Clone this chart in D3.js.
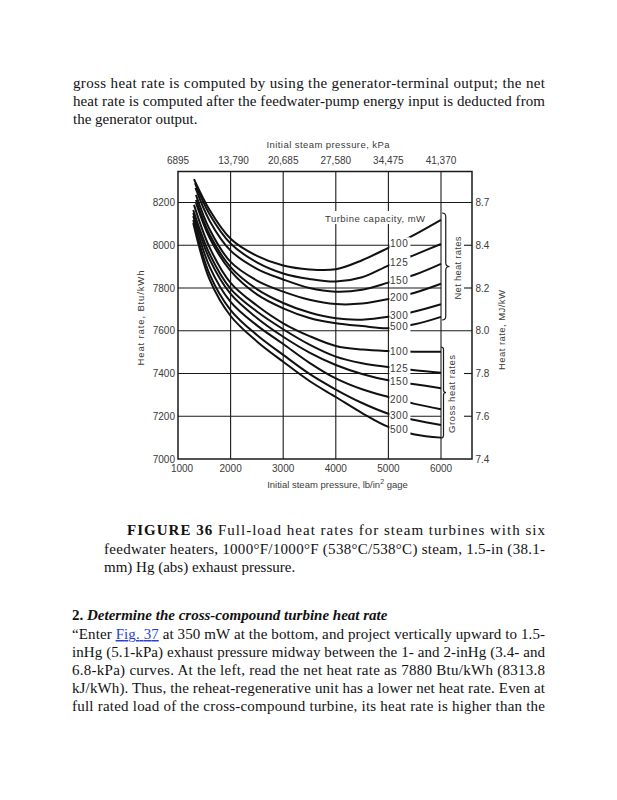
<!DOCTYPE html>
<html><head><meta charset="utf-8">
<script src="https://cdn.jsdelivr.net/npm/d3@7"></script>
<style>body{margin:0;background:#fff}svg{display:block}</style>
</head><body><svg id="c" width="617" height="800"></svg>
<script>
// ---------- data ----------
const capacities = ["100", "125", "150", "200", "300", "500"];
const pressurePsi = [1600, 2000, 2500, 3000, 3500, 4000, 4500, 5000, 5500, 6000];
const netStartPsi = [1304, 1323, 1333, 1342, 1342, 1342];
const netStartBtu = [8309, 8291, 8268, 8236, 8212, 8198];
const grossStartPsi = [1304, 1290, 1290, 1290, 1290, 1290];
const grossStartBtu = [8189, 8165, 8151, 8137, 8118, 8104];
const net100 = [8165, 8030, 7950, 7905, 7887, 7888, 7930, 7988, 8050, 8119];
const net125 = [8145, 8008, 7920, 7868, 7842, 7830, 7850, 7905, 7955, 8006];
const net150 = [8115, 7975, 7890, 7840, 7800, 7783, 7792, 7825, 7862, 7913];
const net200 = [8075, 7922, 7835, 7783, 7745, 7725, 7727, 7748, 7778, 7820];
const net300 = [8050, 7898, 7795, 7730, 7685, 7658, 7652, 7665, 7690, 7724];
const net500 = [8035, 7880, 7770, 7705, 7660, 7635, 7622, 7612, 7630, 7665];
const gross100 = [7990, 7824, 7718, 7635, 7575, 7529, 7512, 7505, 7502, 7502];
const gross125 = [7960, 7796, 7690, 7607, 7535, 7479, 7448, 7430, 7415, 7404];
const gross150 = [7935, 7772, 7660, 7572, 7498, 7440, 7398, 7368, 7350, 7331];
const gross200 = [7900, 7735, 7625, 7538, 7450, 7377, 7326, 7290, 7258, 7233];
const gross300 = [7865, 7697, 7580, 7487, 7398, 7325, 7262, 7212, 7182, 7159];
const gross500 = [7840, 7669, 7550, 7455, 7365, 7290, 7215, 7150, 7115, 7100];
const psiTicks = [1000, 2000, 3000, 4000, 5000, 6000];
const psiLabels = ["1000", "2000", "3000", "4000", "5000", "6000"];
const kpaLabels = ["6895", "13,790", "20,685", "27,580", "34,475", "41,370"];
const btuTicks = [7000, 7200, 7400, 7600, 7800, 8000, 8200];
const mjLabels = ["7.4", "7.6", "7.8", "8.0", "8.2", "8.4", "8.7"];

const netSeries = [net100, net125, net150, net200, net300, net500];
const grossSeries = [gross100, gross125, gross150, gross200, gross300, gross500];

// ---------- layout ----------
const svg = d3.select("#c");
svg.append("rect").attr("width", 617).attr("height", 800).attr("fill", "#fff");
const x = d3.scaleLinear().domain([1000, 6000]).range([178, 441]);
const y = d3.scaleLinear().domain([7000, 8200]).range([459, 202.5]);
const xR = 472, yTop = 171.5;
const ink = "#1a1a1a", lab = "#3a3a3a";
const sans = "'Liberation Sans', Arial, sans-serif";
const serif = "'Liberation Serif', 'Times New Roman', serif";

// ---------- page text ----------
function textLine(t, x0, x1, yb, opts = {}) {
  const el = svg.append("text").attr("x", x0).attr("y", yb)
    .attr("font-family", serif).attr("font-size", opts.size || 15).attr("fill", "#111");
  if (opts.justify) el.attr("textLength", x1 - x0).attr("lengthAdjust", "spacing");
  (Array.isArray(t) ? t : [[t, {}]]).forEach(([s, st]) => {
    const ts = el.append("tspan").text(s);
    if (st.bold) ts.attr("font-weight", "bold");
    if (st.italic) ts.attr("font-style", "italic");
    if (st.link) ts.attr("fill", "#2a3fd6").style("text-decoration", "underline");
  });
  return el;
}
textLine("gross heat rate is computed by using the generator-terminal output; the net", 73, 545, 88, {justify: true});
textLine("heat rate is computed after the feedwater-pump energy input is deducted from", 73, 545, 106, {justify: true});
textLine("the generator output.", 73, 545, 124);

textLine([["FIGURE 36", {bold: true}], [" Full-load heat rates for steam turbines with six", {}]], 127, 545, 535, {justify: true});
textLine("feedwater heaters, 1000°F/1000°F (538°C/538°C) steam, 1.5-in (38.1-", 104, 545, 553.5, {justify: true});
textLine("mm) Hg (abs) exhaust pressure.", 104, 545, 572);

textLine([["2. ", {bold: true}], ["Determine the cross-compound turbine heat rate", {bold: true, italic: true}]], 72, 545, 620);
textLine([["“Enter ", {}], ["Fig. 37", {link: true}], [" at 350 mW at the bottom, and project vertically upward to 1.5-", {}]], 72, 545, 639, {justify: true});
textLine("inHg (5.1-kPa) exhaust pressure midway between the 1- and 2-inHg (3.4- and", 72, 545, 657, {justify: true});
textLine("6.8-kPa) curves. At the left, read the net heat rate as 7880 Btu/kWh (8313.8", 72, 545, 675, {justify: true});
textLine("kJ/kWh). Thus, the reheat-regenerative unit has a lower net heat rate. Even at", 72, 545, 693, {justify: true});
textLine("full rated load of the cross-compound turbine, its heat rate is higher than the", 72, 545, 711, {justify: true});

// ---------- grid ----------
const g = svg.append("g");
psiTicks.slice(1).forEach(p => {
  g.append("line").attr("x1", x(p)).attr("x2", x(p)).attr("y1", yTop).attr("y2", y(7000))
    .attr("stroke", ink).attr("stroke-width", 1.1);
});
btuTicks.slice(1).forEach(b => {
  const full = (b === 7600 || b === 8200);
  g.append("line").attr("x1", x(1000)).attr("x2", full ? xR : x(6000)).attr("y1", y(b)).attr("y2", y(b))
    .attr("stroke", ink).attr("stroke-width", 1.1);
  if (!full) g.append("line").attr("x1", xR - 8).attr("x2", xR).attr("y1", y(b)).attr("y2", y(b))
    .attr("stroke", ink).attr("stroke-width", 1.1);
});
// frame
g.append("path").attr("d", `M${x(1000)},${yTop}H${xR}V${y(7000)}H${x(1000)}Z`)
  .attr("fill", "none").attr("stroke", ink).attr("stroke-width", 1.5);

// ---------- curves ----------
const line = d3.line().x(d => x(d[0])).y(d => y(d[1])).curve(d3.curveCatmullRom.alpha(0.5));
function pts(startP, startB, vals) { return [[startP, startB]].concat(pressurePsi.map((p, i) => [p, vals[i]])); }
const cg = svg.append("g");
netSeries.forEach((s, i) => cg.append("path").attr("d", line(pts(netStartPsi[i], netStartBtu[i], s)))
  .attr("fill", "none").attr("stroke", "#111").attr("stroke-width", 2));
grossSeries.forEach((s, i) => cg.append("path").attr("d", line(pts(grossStartPsi[i], grossStartBtu[i], s)))
  .attr("fill", "none").attr("stroke", "#111").attr("stroke-width", 2));

// ---------- curve labels ----------
const labelPsi = 5170;
function valAt(vals, p) {
  const i = d3.bisectLeft(pressurePsi, p);
  const t = (p - pressurePsi[i - 1]) / (pressurePsi[i] - pressurePsi[i - 1]);
  return vals[i - 1] + t * (vals[i] - vals[i - 1]);
}
const lg = svg.append("g").attr("font-family", sans).attr("font-size", 10).attr("fill", lab);
function curveLabel(txt, btu) {
  const yy = y(btu);
  lg.append("rect").attr("x", x(5000) + 1).attr("y", yy - 6).attr("width", 21).attr("height", 12).attr("fill", "#fff");
  lg.append("text").attr("x", x(5000) + 1.5).attr("y", yy + 3.6).attr("textLength", 18).text(txt);
}
netSeries.forEach((s, i) => curveLabel(capacities[i], valAt(s, labelPsi)));
grossSeries.forEach((s, i) => curveLabel(capacities[i], valAt(s, labelPsi)));

// title inside plot
lg.append("rect").attr("x", 324).attr("y", 211).attr("width", 104).attr("height", 13).attr("fill", "#fff");
lg.append("text").attr("x", 325).attr("y", 221.5).attr("font-size", 9.5).attr("textLength", 100)
  .text("Turbine capacity, mW");

// ---------- braces ----------
function brace(x0, y0, y1, w) {
  const ym = (y0 + y1) / 2, h = w / 2;
  return `M${x0},${y0} Q${x0 + h},${y0} ${x0 + h},${y0 + h} L${x0 + h},${ym - h} Q${x0 + h},${ym} ${x0 + w},${ym}` +
    ` Q${x0 + h},${ym} ${x0 + h},${ym + h} L${x0 + h},${y1 - h} Q${x0 + h},${y1} ${x0},${y1}`;
}
svg.append("path").attr("d", brace(442, 213, 320, 7.5)).attr("fill", "none").attr("stroke", ink).attr("stroke-width", 1.2);
svg.append("path").attr("d", brace(441, 347, 438, 5)).attr("fill", "none").attr("stroke", ink).attr("stroke-width", 1.2);
const rot = (t, cx, cy, len, size) => svg.append("text").attr("transform", `translate(${cx},${cy}) rotate(-90)`)
  .attr("text-anchor", "middle").attr("font-family", sans).attr("font-size", size).attr("fill", lab)
  .attr("textLength", len).attr("lengthAdjust", "spacing").text(t);
rot("Net heat rates", 461, 268, 63, 9.5);
rot("Gross heat rates", 454.5, 394, 78, 9.5);

// ---------- axes labels ----------
const ax = svg.append("g").attr("font-family", sans).attr("font-size", 10).attr("fill", lab);
btuTicks.forEach(b => ax.append("text").attr("x", 175).attr("y", y(b) + 3.5).attr("text-anchor", "end").text(b));
btuTicks.forEach((b, i) => ax.append("text").attr("x", 475.5).attr("y", y(b) + 3.5).text(mjLabels[i]));
psiTicks.forEach((p, i) => ax.append("text").attr("x", x(p) + (i === 0 ? 4 : 0)).attr("y", 471.5)
  .attr("text-anchor", "middle").text(psiLabels[i]));
kpaLabels.forEach((k, i) => ax.append("text").attr("x", x(psiTicks[i]) + (i === 1 ? 3 : 0)).attr("y", 164)
  .attr("text-anchor", "middle").text(k));
ax.append("text").attr("x", 328).attr("y", 148).attr("text-anchor", "middle").attr("font-size", 9.5)
  .attr("textLength", 123).text("Initial steam pressure, kPa");
const bt = ax.append("text").attr("x", 337.5).attr("y", 487.5).attr("text-anchor", "middle").attr("font-size", 9.5);
bt.append("tspan").text("Initial steam pressure, lb/in");
bt.append("tspan").attr("font-size", 7).attr("dy", -4).text("2");
bt.append("tspan").attr("dy", 4).text(" gage");
rot("Heat rate,  Btu/kWh", 143.5, 318, 95, 9.5);
rot("Heat rate, MJ/kW", 505, 330, 80, 9.5);
</script></body></html>
